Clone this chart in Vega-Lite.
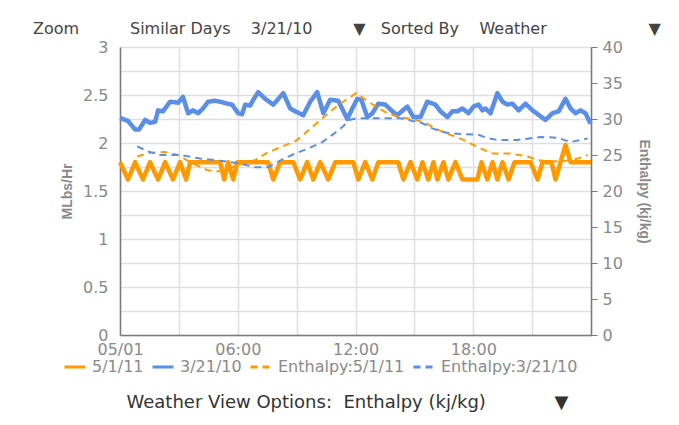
{
  "$schema": "https://vega.github.io/schema/vega-lite/v6.json",
  "width": 471,
  "height": 288,
  "autosize": {"type": "none"},
  "padding": {"left": 120, "top": 47, "right": 88, "bottom": 90},
  "background": "white",
  "config": {
    "view": {"stroke": null},
    "font": "DejaVu Sans",
    "axis": {
      "labelFont": "DejaVu Sans",
      "labelFontSize": 16,
      "labelColor": "#8a8a8a",
      "domainColor": "#7a7a7a",
      "domainWidth": 1.5,
      "tickColor": "#7a7a7a",
      "gridColor": "#dedede",
      "gridWidth": 1.5,
      "titleFont": "Liberation Sans",
      "titleFontWeight": "bold",
      "titleFontSize": 14,
      "titleColor": "#8a8a8a"
    },
    "legend": {
      "orient": "none",
      "legendX": -57,
      "legendY": 308,
      "direction": "horizontal",
      "symbolType": "stroke",
      "symbolSize": 441,
      "symbolStrokeWidth": 3,
      "labelFont": "DejaVu Sans",
      "labelFontSize": 16,
      "labelColor": "#8a8a8a",
      "labelOffset": 5,
      "columnPadding": 2,
      "title": null
    }
  },
  "title": {
    "text": "Zoom\u00a0\u00a0\u00a0\u00a0\u00a0\u00a0\u00a0\u00a0\u00a0\u00a0Similar Days\u00a0\u00a0\u00a0\u00a03/21/10\u00a0\u00a0\u00a0\u00a0\u00a0\u00a0\u00a0\u00a0▼\u00a0\u00a0\u00a0Sorted By\u00a0\u00a0\u00a0\u00a0Weather\u00a0\u00a0\u00a0\u00a0\u00a0\u00a0\u00a0\u00a0\u00a0\u00a0\u00a0\u00a0\u00a0\u00a0\u00a0\u00a0\u00a0\u00a0\u00a0\u00a0▼",
    "anchor": "start",
    "frame": "group",
    "dx": -87,
    "offset": 2,
    "font": "DejaVu Sans",
    "fontSize": 16,
    "fontWeight": "normal",
    "color": "#444444"
  },
  "datasets": {
    "steam": [
      {"s":"3/21/10","h":0,"v":2.26},{"s":"3/21/10","h":0.41,"v":2.23},{"s":"3/21/10","h":0.77,"v":2.14},{"s":"3/21/10","h":0.97,"v":2.14},
      {"s":"3/21/10","h":1.28,"v":2.24},{"s":"3/21/10","h":1.53,"v":2.21},{"s":"3/21/10","h":1.79,"v":2.22},{"s":"3/21/10","h":1.94,"v":2.34},
      {"s":"3/21/10","h":2.19,"v":2.33},{"s":"3/21/10","h":2.55,"v":2.43},{"s":"3/21/10","h":2.96,"v":2.42},{"s":"3/21/10","h":3.21,"v":2.48},
      {"s":"3/21/10","h":3.47,"v":2.31},{"s":"3/21/10","h":3.72,"v":2.34},{"s":"3/21/10","h":3.98,"v":2.31},{"s":"3/21/10","h":4.23,"v":2.36},
      {"s":"3/21/10","h":4.49,"v":2.43},{"s":"3/21/10","h":4.85,"v":2.44},{"s":"3/21/10","h":5.10,"v":2.43},{"s":"3/21/10","h":5.46,"v":2.41},
      {"s":"3/21/10","h":5.71,"v":2.40},{"s":"3/21/10","h":6.02,"v":2.31},{"s":"3/21/10","h":6.22,"v":2.30},{"s":"3/21/10","h":6.38,"v":2.40},
      {"s":"3/21/10","h":6.63,"v":2.39},{"s":"3/21/10","h":6.79,"v":2.45},{"s":"3/21/10","h":7.04,"v":2.53},{"s":"3/21/10","h":7.40,"v":2.46},
      {"s":"3/21/10","h":7.81,"v":2.40},{"s":"3/21/10","h":8.32,"v":2.52},{"s":"3/21/10","h":8.67,"v":2.36},{"s":"3/21/10","h":8.93,"v":2.33},
      {"s":"3/21/10","h":9.34,"v":2.29},{"s":"3/21/10","h":9.69,"v":2.43},{"s":"3/21/10","h":10.05,"v":2.53},{"s":"3/21/10","h":10.36,"v":2.31},
      {"s":"3/21/10","h":10.71,"v":2.45},{"s":"3/21/10","h":11.12,"v":2.44},{"s":"3/21/10","h":11.58,"v":2.25},{"s":"3/21/10","h":11.89,"v":2.38},
      {"s":"3/21/10","h":12.09,"v":2.46},{"s":"3/21/10","h":12.30,"v":2.45},{"s":"3/21/10","h":12.60,"v":2.27},{"s":"3/21/10","h":12.86,"v":2.31},
      {"s":"3/21/10","h":13.16,"v":2.41},{"s":"3/21/10","h":13.52,"v":2.40},{"s":"3/21/10","h":13.88,"v":2.33},{"s":"3/21/10","h":14.13,"v":2.29},
      {"s":"3/21/10","h":14.64,"v":2.38},{"s":"3/21/10","h":14.95,"v":2.27},{"s":"3/21/10","h":15.31,"v":2.27},{"s":"3/21/10","h":15.66,"v":2.43},
      {"s":"3/21/10","h":16.07,"v":2.40},{"s":"3/21/10","h":16.33,"v":2.33},{"s":"3/21/10","h":16.68,"v":2.27},{"s":"3/21/10","h":16.94,"v":2.33},
      {"s":"3/21/10","h":17.19,"v":2.33},{"s":"3/21/10","h":17.45,"v":2.36},{"s":"3/21/10","h":17.76,"v":2.31},{"s":"3/21/10","h":18.01,"v":2.38},
      {"s":"3/21/10","h":18.27,"v":2.40},{"s":"3/21/10","h":18.47,"v":2.34},{"s":"3/21/10","h":18.62,"v":2.36},{"s":"3/21/10","h":18.88,"v":2.31},
      {"s":"3/21/10","h":19.23,"v":2.52},{"s":"3/21/10","h":19.49,"v":2.43},{"s":"3/21/10","h":19.74,"v":2.40},{"s":"3/21/10","h":20.00,"v":2.41},
      {"s":"3/21/10","h":20.31,"v":2.34},{"s":"3/21/10","h":20.66,"v":2.41},{"s":"3/21/10","h":21.02,"v":2.34},{"s":"3/21/10","h":21.68,"v":2.24},
      {"s":"3/21/10","h":22.04,"v":2.31},{"s":"3/21/10","h":22.35,"v":2.33},{"s":"3/21/10","h":22.70,"v":2.46},{"s":"3/21/10","h":22.96,"v":2.36},
      {"s":"3/21/10","h":23.21,"v":2.31},{"s":"3/21/10","h":23.47,"v":2.34},{"s":"3/21/10","h":23.72,"v":2.31},{"s":"3/21/10","h":23.98,"v":2.20},
      {"s":"5/1/11","h":0,"v":1.8},{"s":"5/1/11","h":0.41,"v":1.62},{"s":"5/1/11","h":0.77,"v":1.8},{"s":"5/1/11","h":1.17,"v":1.62},
      {"s":"5/1/11","h":1.53,"v":1.8},{"s":"5/1/11","h":1.94,"v":1.62},{"s":"5/1/11","h":2.30,"v":1.8},{"s":"5/1/11","h":2.70,"v":1.62},
      {"s":"5/1/11","h":3.06,"v":1.8},{"s":"5/1/11","h":3.37,"v":1.62},{"s":"5/1/11","h":3.57,"v":1.8},{"s":"5/1/11","h":5.10,"v":1.8},
      {"s":"5/1/11","h":5.31,"v":1.62},{"s":"5/1/11","h":5.51,"v":1.8},{"s":"5/1/11","h":5.77,"v":1.62},{"s":"5/1/11","h":5.97,"v":1.8},
      {"s":"5/1/11","h":7.55,"v":1.8},{"s":"5/1/11","h":7.81,"v":1.62},{"s":"5/1/11","h":8.16,"v":1.8},{"s":"5/1/11","h":8.83,"v":1.8},
      {"s":"5/1/11","h":9.18,"v":1.62},{"s":"5/1/11","h":9.54,"v":1.8},{"s":"5/1/11","h":9.85,"v":1.62},{"s":"5/1/11","h":10.20,"v":1.8},
      {"s":"5/1/11","h":10.61,"v":1.62},{"s":"5/1/11","h":10.97,"v":1.8},{"s":"5/1/11","h":11.89,"v":1.8},{"s":"5/1/11","h":12.14,"v":1.62},
      {"s":"5/1/11","h":12.50,"v":1.8},{"s":"5/1/11","h":12.86,"v":1.62},{"s":"5/1/11","h":13.16,"v":1.8},{"s":"5/1/11","h":14.18,"v":1.8},
      {"s":"5/1/11","h":14.44,"v":1.62},{"s":"5/1/11","h":14.80,"v":1.8},{"s":"5/1/11","h":15.15,"v":1.62},{"s":"5/1/11","h":15.41,"v":1.8},
      {"s":"5/1/11","h":15.71,"v":1.62},{"s":"5/1/11","h":15.97,"v":1.8},{"s":"5/1/11","h":16.17,"v":1.62},{"s":"5/1/11","h":16.48,"v":1.8},
      {"s":"5/1/11","h":16.73,"v":1.62},{"s":"5/1/11","h":17.09,"v":1.8},{"s":"5/1/11","h":17.45,"v":1.62},{"s":"5/1/11","h":18.21,"v":1.62},
      {"s":"5/1/11","h":18.42,"v":1.8},{"s":"5/1/11","h":18.72,"v":1.62},{"s":"5/1/11","h":18.98,"v":1.8},{"s":"5/1/11","h":19.23,"v":1.62},
      {"s":"5/1/11","h":19.49,"v":1.8},{"s":"5/1/11","h":19.80,"v":1.62},{"s":"5/1/11","h":20.10,"v":1.8},{"s":"5/1/11","h":20.92,"v":1.8},
      {"s":"5/1/11","h":21.28,"v":1.62},{"s":"5/1/11","h":21.53,"v":1.8},{"s":"5/1/11","h":21.99,"v":1.8},{"s":"5/1/11","h":22.19,"v":1.62},
      {"s":"5/1/11","h":22.45,"v":1.8},{"s":"5/1/11","h":22.70,"v":1.98},{"s":"5/1/11","h":22.96,"v":1.8},{"s":"5/1/11","h":24.0,"v":1.8}
    ],
    "enthalpy": [
      {"s":"Enthalpy:5/1/11","h":0.87,"e":24.8},{"s":"Enthalpy:5/1/11","h":1.53,"e":25.3},{"s":"Enthalpy:5/1/11","h":2.30,"e":25.4},
      {"s":"Enthalpy:5/1/11","h":2.96,"e":25.0},{"s":"Enthalpy:5/1/11","h":3.72,"e":23.8},{"s":"Enthalpy:5/1/11","h":4.44,"e":22.9},
      {"s":"Enthalpy:5/1/11","h":4.95,"e":22.7},{"s":"Enthalpy:5/1/11","h":5.61,"e":23.2},{"s":"Enthalpy:5/1/11","h":6.28,"e":23.8},
      {"s":"Enthalpy:5/1/11","h":6.89,"e":24.3},{"s":"Enthalpy:5/1/11","h":7.55,"e":25.4},{"s":"Enthalpy:5/1/11","h":8.21,"e":26.1},
      {"s":"Enthalpy:5/1/11","h":8.98,"e":27.0},{"s":"Enthalpy:5/1/11","h":9.64,"e":28.5},{"s":"Enthalpy:5/1/11","h":10.31,"e":30.1},
      {"s":"Enthalpy:5/1/11","h":10.97,"e":31.6},{"s":"Enthalpy:5/1/11","h":11.48,"e":32.6},{"s":"Enthalpy:5/1/11","h":12.04,"e":33.6},
      {"s":"Enthalpy:5/1/11","h":12.55,"e":32.6},{"s":"Enthalpy:5/1/11","h":13.11,"e":31.6},{"s":"Enthalpy:5/1/11","h":13.62,"e":30.8},
      {"s":"Enthalpy:5/1/11","h":14.18,"e":30.3},{"s":"Enthalpy:5/1/11","h":15.05,"e":29.9},{"s":"Enthalpy:5/1/11","h":15.61,"e":29.4},
      {"s":"Enthalpy:5/1/11","h":16.22,"e":28.5},{"s":"Enthalpy:5/1/11","h":16.84,"e":27.8},{"s":"Enthalpy:5/1/11","h":17.50,"e":27.1},
      {"s":"Enthalpy:5/1/11","h":18.37,"e":25.9},{"s":"Enthalpy:5/1/11","h":19.03,"e":25.2},{"s":"Enthalpy:5/1/11","h":19.90,"e":25.2},
      {"s":"Enthalpy:5/1/11","h":20.77,"e":24.8},{"s":"Enthalpy:5/1/11","h":21.28,"e":24.3},{"s":"Enthalpy:5/1/11","h":21.94,"e":24.1},
      {"s":"Enthalpy:5/1/11","h":22.70,"e":24.2},{"s":"Enthalpy:5/1/11","h":23.32,"e":24.5},{"s":"Enthalpy:5/1/11","h":23.83,"e":25.0},
      {"s":"Enthalpy:3/21/10","h":0.87,"e":26.2},{"s":"Enthalpy:3/21/10","h":1.43,"e":25.5},{"s":"Enthalpy:3/21/10","h":2.04,"e":25.0},
      {"s":"Enthalpy:3/21/10","h":3.06,"e":25.0},{"s":"Enthalpy:3/21/10","h":4.08,"e":24.5},{"s":"Enthalpy:3/21/10","h":5.10,"e":24.2},
      {"s":"Enthalpy:3/21/10","h":6.12,"e":23.8},{"s":"Enthalpy:3/21/10","h":6.89,"e":23.3},{"s":"Enthalpy:3/21/10","h":7.55,"e":23.3},
      {"s":"Enthalpy:3/21/10","h":8.27,"e":24.4},{"s":"Enthalpy:3/21/10","h":8.93,"e":25.2},{"s":"Enthalpy:3/21/10","h":9.59,"e":25.9},
      {"s":"Enthalpy:3/21/10","h":10.31,"e":26.8},{"s":"Enthalpy:3/21/10","h":10.82,"e":27.8},{"s":"Enthalpy:3/21/10","h":11.33,"e":28.9},
      {"s":"Enthalpy:3/21/10","h":11.73,"e":29.9},{"s":"Enthalpy:3/21/10","h":12.09,"e":30.1},{"s":"Enthalpy:3/21/10","h":14.29,"e":30.1},
      {"s":"Enthalpy:3/21/10","h":14.80,"e":29.8},{"s":"Enthalpy:3/21/10","h":15.41,"e":29.4},{"s":"Enthalpy:3/21/10","h":15.92,"e":28.7},
      {"s":"Enthalpy:3/21/10","h":16.43,"e":28.2},{"s":"Enthalpy:3/21/10","h":16.94,"e":28.0},{"s":"Enthalpy:3/21/10","h":18.27,"e":27.8},
      {"s":"Enthalpy:3/21/10","h":18.78,"e":27.3},{"s":"Enthalpy:3/21/10","h":19.23,"e":27.1},{"s":"Enthalpy:3/21/10","h":20.25,"e":27.1},
      {"s":"Enthalpy:3/21/10","h":21.43,"e":27.5},{"s":"Enthalpy:3/21/10","h":22.29,"e":27.4},{"s":"Enthalpy:3/21/10","h":22.96,"e":26.8},
      {"s":"Enthalpy:3/21/10","h":23.83,"e":27.3}
    ]
  },
  "layer": [
    {
      "data": {"name": "steam"},
      "mark": {"type": "line", "strokeJoin": "round", "strokeWidth": 4.5},
      "encoding": {
        "x": {
          "field": "h", "type": "quantitative",
          "scale": {"domain": [0, 24], "nice": false, "zero": false},
          "axis": {
            "values": [0, 3, 6, 9, 12, 15, 18, 21, 24],
            "labelExpr": "datum.value == 0 ? '05/01' : (datum.value % 6 == 0 && datum.value < 24 ? (datum.value < 10 ? '0' : '') + datum.value + ':00' : '')",
            "labelOverlap": false,
            "labelFlush": false,
            "ticks": false,
            "labelPadding": 6,
            "title": "Weather View Options:\u00a0\u00a0Enthalpy (kj/kg)\u00a0\u00a0\u00a0\u00a0\u00a0\u00a0\u00a0\u00a0\u00a0\u00a0\u00a0\u00a0▼",
            "titleFont": "DejaVu Sans",
            "titleFontWeight": "normal",
            "titleFontSize": 18,
            "titleColor": "#333333",
            "titleX": 6,
            "titleY": 67,
            "titleAlign": "left",
            "titleAnchor": "start",
            "titleBaseline": "middle"
          }
        },
        "y": {
          "field": "v", "type": "quantitative",
          "scale": {"domain": [0, 3], "nice": false},
          "axis": {
            "values": [0, 0.25, 0.5, 0.75, 1, 1.25, 1.5, 1.75, 2, 2.25, 2.5, 2.75, 3],
            "labelExpr": "(datum.value * 2) % 1 == 0 ? '' + datum.value : ''",
            "ticks": false,
            "labelPadding": 12,
            "title": "MLbs/Hr",
            "titlePadding": 8
          }
        },
        "color": {
          "field": "s", "type": "nominal",
          "scale": {"domain": ["5/1/11", "3/21/10", "Enthalpy:5/1/11", "Enthalpy:3/21/10"], "range": ["#ff9900", "#5b8ee6", "#ff9900", "#5b8ee6"]}
        },
        "strokeDash": {
          "field": "s", "type": "nominal",
          "scale": {"domain": ["5/1/11", "3/21/10", "Enthalpy:5/1/11", "Enthalpy:3/21/10"], "range": [[1, 0], [1, 0], [7, 5], [7, 5]]}
        }
      }
    },
    {
      "data": {"name": "enthalpy"},
      "mark": {"type": "line", "strokeWidth": 2},
      "encoding": {
        "x": {"field": "h", "type": "quantitative"},
        "y": {
          "field": "e", "type": "quantitative",
          "scale": {"domain": [0, 40], "nice": false},
          "axis": {
            "orient": "right",
            "values": [0, 5, 10, 15, 20, 25, 30, 35, 40],
            "grid": false,
            "tickSize": 6,
            "labelPadding": 5,
            "title": "Enthalpy (kj/kg)",
            "titlePadding": 14
          }
        },
        "color": {"field": "s", "type": "nominal"},
        "strokeDash": {"field": "s", "type": "nominal"}
      }
    }
  ],
  "resolve": {"scale": {"y": "independent"}}
}
